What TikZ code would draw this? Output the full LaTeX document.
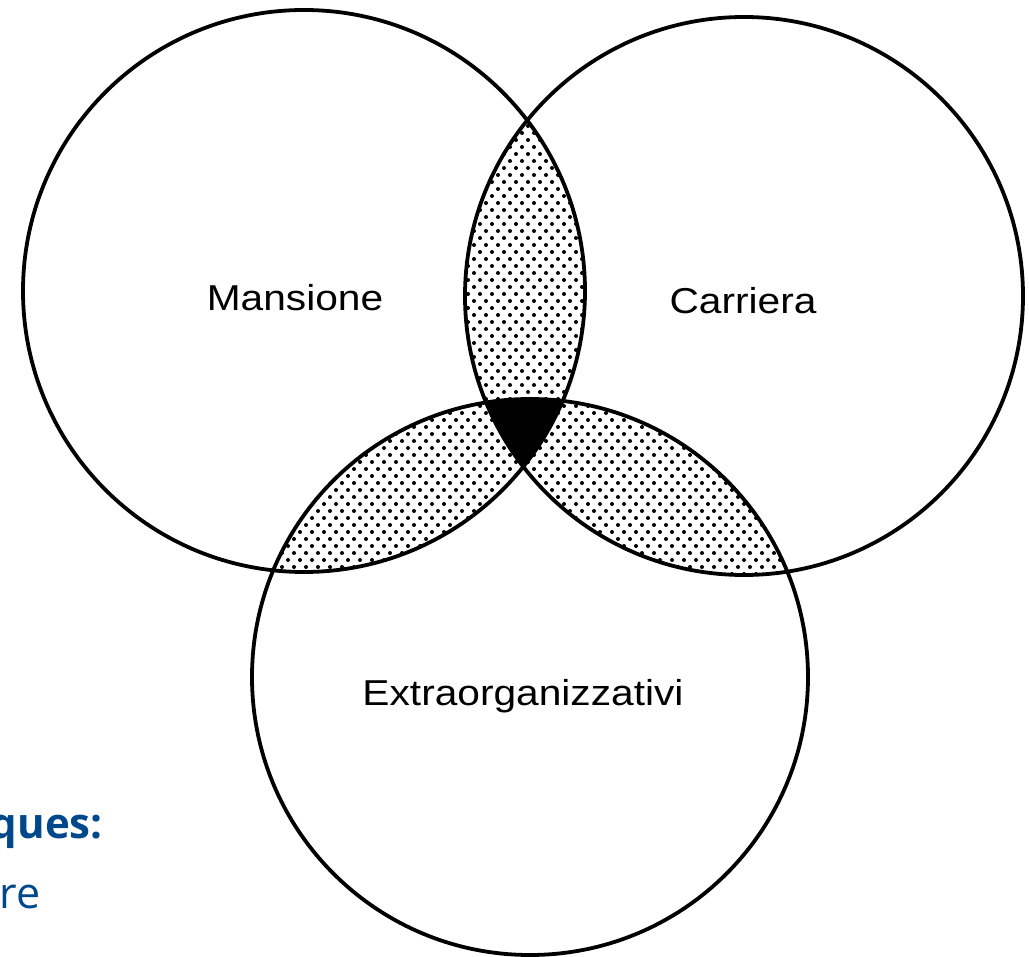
\documentclass[tikz,border=0pt]{standalone}
\usepackage{fontspec}
\setmainfont{Liberation Sans}
\newfontfamily\notefont{Open Sans}
\definecolor{noteblue}{RGB}{0,72,140}
\begin{document}
\begin{tikzpicture}[x=1pt,y=-1pt,
  ring/.style={line width=3.8pt, draw=black},
  dotmark/.style={fill=black},
  vlabel/.style={font=\fontsize{36}{40}\selectfont, xscale=1.13, anchor=base, inner sep=0pt},
  notebold/.style={font=\notefont\bfseries\fontsize{42}{48}\selectfont, text=noteblue, anchor=base east, inner sep=0pt},
  notereg/.style={font=\notefont\fontsize{43}{48}\selectfont, text=noteblue, anchor=base east, inner sep=0pt}]
\useasboundingbox (0,0) rectangle (1029,957);
\fill[white] (0,0) rectangle (1029,957);
\coordinate (L) at (304,291);
\coordinate (R) at (744,296);
\coordinate (B) at (530,677);
% dotted lenses
\begin{scope}
  \clip (L) circle (281pt); \clip (R) circle (279pt);
  \foreach \j in {16,...,68} \foreach \i in {38,...,50}
    \fill[dotmark] ({12*\i+6*mod(\j,2)},{7*\j}) circle (2pt);
\end{scope}
\begin{scope}
  \clip (L) circle (281pt); \clip (B) circle (278pt);
  \foreach \j in {55,...,84} \foreach \i in {21,...,48}
    \fill[dotmark] ({12*\i+6*mod(\j,2)},{7*\j}) circle (2pt);
\end{scope}
\begin{scope}
  \clip (R) circle (279pt); \clip (B) circle (278pt);
  \foreach \j in {55,...,84} \foreach \i in {39,...,67}
    \fill[dotmark] ({12*\i+6*mod(\j,2)},{7*\j}) circle (2pt);
\end{scope}
% black triple intersection
\begin{scope}
  \clip (L) circle (281pt); \clip (R) circle (279pt);
  \fill[black] (B) circle (278pt);
\end{scope}
% circles
\draw[ring] (L) circle (281pt);
\draw[ring] (R) circle (279pt);
\draw[ring] (B) circle (278pt);
% labels
\node[vlabel] (mansione) at (295,311) {Mansione};
\node[vlabel] (carriera) at (743,314) {Carriera};
\node[vlabel] (extra) at (523,705) {Extraorganizzativi};
% cropped blue text
\node[notebold] (ques) at (103,838) {ques:};
\node[notereg] (re) at (41,908) {re};
\end{tikzpicture}
\end{document}
